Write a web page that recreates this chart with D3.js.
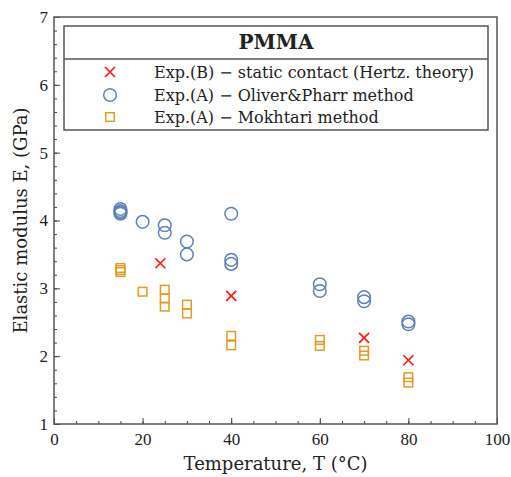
<!DOCTYPE html>
<html>
<head>
<meta charset="utf-8">
<script src="https://cdn.jsdelivr.net/npm/d3@7"></script>
<style>
  body { margin: 0; background: #fff; }
  svg text { font-family: "DejaVu Serif", serif; fill: #222; }
  svg .tick text { font-family: "Liberation Serif", serif; }
</style>
</head>
<body>
<div id="chart"></div>
<script>
// temperature (°C) and elastic modulus (GPa)
var hertzT = [24, 40, 70, 80];
var hertzE = [3.37, 2.89, 2.27, 1.94];

var oliverT = [15, 15, 15, 15, 20, 25, 25, 30, 30, 40, 40, 40, 60, 60, 70, 70, 80, 80];
var oliverE = [4.17, 4.14, 4.12, 4.10, 3.98, 3.93, 3.82, 3.69, 3.50, 4.10, 3.42, 3.36, 3.06, 2.96, 2.87, 2.81, 2.51, 2.47];

var mokhT = [15, 15, 15, 20, 25, 25, 25, 30, 30, 40, 40, 60, 60, 70, 70, 80, 80];
var mokhE = [3.30, 3.27, 3.24, 2.95, 2.98, 2.85, 2.73, 2.76, 2.63, 2.30, 2.16, 2.24, 2.15, 2.08, 2.01, 1.69, 1.61];

var xTicks = [0, 20, 40, 60, 80, 100];
var yTicks = [1, 2, 3, 4, 5, 6, 7];
var legendLabels = [
  "Exp.(B) \u2212 static contact (Hertz. theory)",
  "Exp.(A) \u2212 Oliver&Pharr method",
  "Exp.(A) \u2212 Mokhtari method"
];

var width = 511, height = 477;
var margin = {top: 17, right: 14, bottom: 53, left: 54};

var red = "#ff1a1a", blue = "#5e81b5", orange = "#e19c24";

var svg = d3.select("#chart").append("svg")
  .attr("width", width)
  .attr("height", height);

var x = d3.scaleLinear().domain([0, 100]).range([margin.left, width - margin.right]);
var y = d3.scaleLinear().domain([1, 7]).range([height - margin.bottom, margin.top]);

// minor ticks, pointing inward
svg.append("g")
  .attr("transform", "translate(0," + y(1) + ")")
  .call(d3.axisBottom(x).tickValues(d3.range(0, 101, 5)).tickSize(-3).tickFormat(""))
  .call(function (g) { g.select(".domain").remove(); })
  .selectAll("line").attr("stroke", "#444");

svg.append("g")
  .attr("transform", "translate(" + x(0) + ",0)")
  .call(d3.axisLeft(y).tickValues(d3.range(1, 7.01, 0.2)).tickSize(-3).tickFormat(""))
  .call(function (g) { g.select(".domain").remove(); })
  .selectAll("line").attr("stroke", "#444");

// major ticks with labels
var xAxis = svg.append("g")
  .attr("transform", "translate(0," + y(1) + ")")
  .call(d3.axisBottom(x).tickValues(xTicks).tickSize(-6).tickPadding(9).tickFormat(d3.format("d")));
xAxis.select(".domain").remove();
xAxis.selectAll("line").attr("stroke", "#444");
xAxis.selectAll("text").style("font-size", "17px").attr("fill", "#222");

var yAxis = svg.append("g")
  .attr("transform", "translate(" + x(0) + ",0)")
  .call(d3.axisLeft(y).tickValues(yTicks).tickSize(-6).tickPadding(6).tickFormat(d3.format("d")));
yAxis.select(".domain").remove();
yAxis.selectAll("line").attr("stroke", "#444");
yAxis.selectAll("text").style("font-size", "17px").attr("fill", "#222");

// frame
svg.append("rect")
  .attr("x", x(0)).attr("y", y(7))
  .attr("width", x(100) - x(0)).attr("height", y(1) - y(7))
  .attr("fill", "none").attr("stroke", "#555").attr("stroke-width", 1.5);

// axis titles
svg.append("text")
  .attr("x", (x(0) + x(100)) / 2).attr("y", 470)
  .attr("text-anchor", "middle")
  .style("font-size", "18px")
  .text("Temperature, T (\u00b0C)");

svg.append("text")
  .attr("transform", "translate(21," + ((y(1) + y(7)) / 2) + ") rotate(-90)")
  .attr("text-anchor", "middle")
  .attr("dy", "0.35em")
  .style("font-size", "18px")
  .text("Elastic modulus E, (GPa)");

function cross(sel, s) {
  sel.append("path")
    .attr("d", "M" + -s + "," + -s + "L" + s + "," + s + "M" + -s + "," + s + "L" + s + "," + -s)
    .attr("stroke", red).attr("stroke-width", 1.7).attr("fill", "none");
}

// points
svg.append("g").selectAll("circle")
  .data(oliverT)
  .join("circle")
  .attr("cx", function (d) { return x(d); })
  .attr("cy", function (d, i) { return y(oliverE[i]); })
  .attr("r", 6.3)
  .attr("fill", "none").attr("stroke", blue).attr("stroke-width", 1.5);

svg.append("g").selectAll("rect")
  .data(mokhT)
  .join("rect")
  .attr("x", function (d) { return x(d) - 4.3; })
  .attr("y", function (d, i) { return y(mokhE[i]) - 4.3; })
  .attr("width", 8.6).attr("height", 8.6)
  .attr("fill", "none").attr("stroke", orange).attr("stroke-width", 1.5);

svg.append("g").selectAll("g")
  .data(hertzT)
  .join("g")
  .attr("transform", function (d, i) { return "translate(" + x(d) + "," + y(hertzE[i]) + ")"; })
  .each(function () { cross(d3.select(this), 5); });

// legend
var lg = svg.append("g");
lg.append("rect")
  .attr("x", 64).attr("y", 26).attr("width", 424).attr("height", 104)
  .attr("fill", "#fff").attr("stroke", "#555").attr("stroke-width", 1.5);
lg.append("line")
  .attr("x1", 64).attr("x2", 488).attr("y1", 59).attr("y2", 59)
  .attr("stroke", "#555").attr("stroke-width", 1.5);
lg.append("text")
  .attr("x", 276).attr("y", 49)
  .attr("text-anchor", "middle")
  .style("font-size", "20px").style("font-weight", "bold")
  .text("PMMA");

var rowY = [72, 95, 117];
legendLabels.forEach(function (lab, i) {
  var g = lg.append("g").attr("transform", "translate(110," + rowY[i] + ")");
  if (i === 0) cross(g, 5);
  if (i === 1) g.append("circle").attr("r", 6.3).attr("fill", "none").attr("stroke", blue).attr("stroke-width", 1.5);
  if (i === 2) g.append("rect").attr("x", -4.3).attr("y", -4.3).attr("width", 8.6).attr("height", 8.6)
    .attr("fill", "none").attr("stroke", orange).attr("stroke-width", 1.5);
  lg.append("text")
    .attr("x", 154).attr("y", rowY[i])
    .attr("dy", "0.35em")
    .style("font-size", "16px")
    .text(lab);
});
</script>
</body>
</html>
